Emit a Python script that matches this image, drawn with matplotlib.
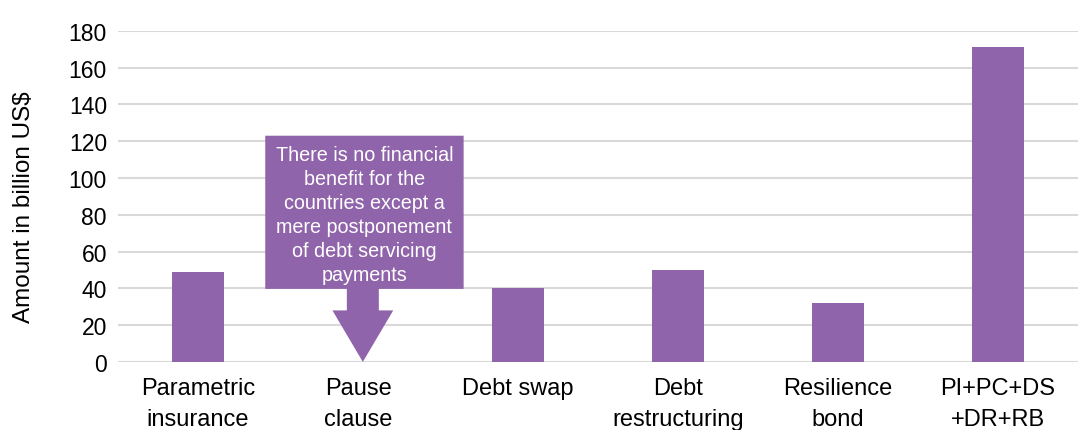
import numpy as np
import matplotlib.pyplot as plt
from matplotlib.patches import Polygon

plt.rcParams['font.family'] = ['Liberation Sans', 'DejaVu Sans']

# Data
categories = ['Parametric\ninsurance', 'Pause\nclause', 'Debt swap',
              'Debt\nrestructuring', 'Resilience\nbond', 'PI+PC+DS\n+DR+RB']
amounts = [49, 0, 40, 50, 32, 171]
yticks = [0, 20, 40, 60, 80, 100, 120, 140, 160, 180]

purple = '#8f64aa'

fig = plt.figure(figsize=(10.78, 4.31), dpi=100)
ax = fig.add_axes([0.1095, 0.158, 0.8905, 0.768])

x = np.arange(len(categories))
ax.bar(x, amounts, width=0.325, color=purple, zorder=3)

ax.set_xlim(-0.5, len(categories) - 0.5)
ax.set_ylim(0, 180)
ax.set_yticks(yticks)
ax.set_xticks(x)
ax.set_xticklabels(categories, fontsize=17, linespacing=1.5)
ax.tick_params(axis='y', labelsize=16.5, length=0, pad=8)
ax.tick_params(axis='x', length=0, pad=11)
ax.grid(axis='y', color='#d9d9d9', linewidth=1.5, zorder=0)
for s in ax.spines.values():
    s.set_visible(False)
ax.set_ylabel('Amount in billion US$', fontsize=17.5)
ax.yaxis.set_label_coords(-0.087, 0.47)

# Down-arrow callout over the pause clause
bx0, bx1, by0, by1 = 0.42, 1.66, 39.7, 123
ac = 1.03
shaft, head, head_y = 0.1, 0.19, 28
callout = Polygon([(bx0, by1), (bx1, by1), (bx1, by0), (ac + shaft, by0),
                   (ac + shaft, head_y), (ac + head, head_y), (ac, 0),
                   (ac - head, head_y), (ac - shaft, head_y), (ac - shaft, by0),
                   (bx0, by0)], closed=True, facecolor=purple, edgecolor='none',
                  zorder=4)
ax.add_patch(callout)
ax.text((bx0 + bx1) / 2, (by0 + by1) / 2 - 1,
        'There is no financial\nbenefit for the\ncountries except a\n'
        'mere postponement\nof debt servicing\npayments',
        ha='center', va='center', color='white', fontsize=14.2,
        linespacing=1.33, zorder=5)

fig.savefig('out.png', dpi=100)
